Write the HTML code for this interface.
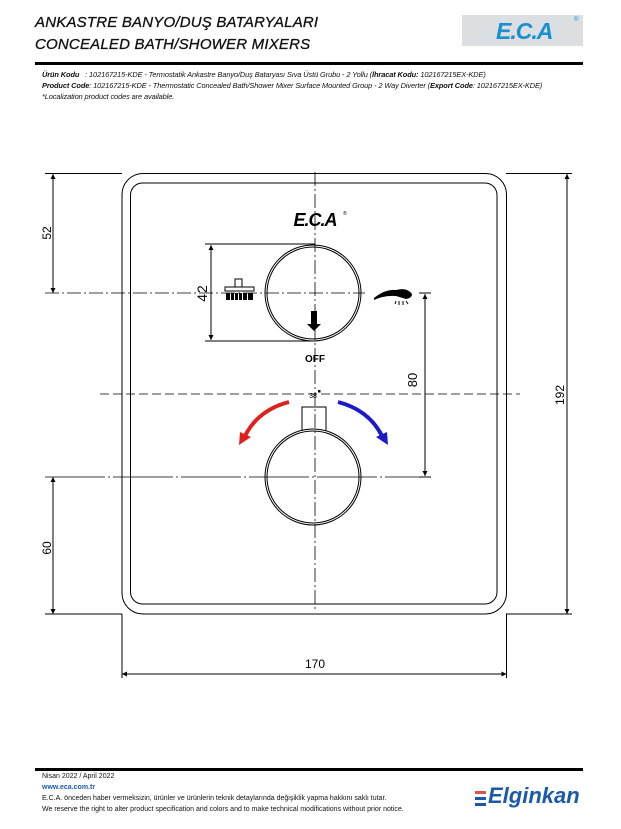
<!DOCTYPE html>
<html><head><meta charset="utf-8"><style>
body{margin:0;width:621px;height:829px;background:#fff;position:relative;overflow:hidden;font-family:"Liberation Sans",sans-serif}
.t{position:absolute;left:35px;font-family:"Liberation Sans",sans-serif;font-style:italic;font-size:15px;color:#111;letter-spacing:0.2px;-webkit-text-stroke:0.3px #111}
.s{position:absolute;left:35px;font-size:7.4px;font-style:italic;color:#111;white-space:nowrap;letter-spacing:-0.1px}
.f{position:absolute;left:42px;font-size:7px;color:#111;white-space:nowrap}
</style></head><body>
<div class="t" style="top:14px">ANKASTRE BANYO/DUŞ BATARYALARI</div>
<div class="t" style="top:36px">CONCEALED BATH/SHOWER MIXERS</div>
<div style="position:absolute;left:462px;top:15px;width:121px;height:31px;background:#dcdfe2"></div>
<div style="position:absolute;left:496px;top:18px;font:italic bold 23px 'Liberation Sans',sans-serif;color:#1a8fcf;letter-spacing:-1px">E.C.A</div>
<div style="position:absolute;left:574px;top:17px;font-size:6px;color:#1a8fcf">®</div>
<div style="position:absolute;left:35px;top:62px;width:548px;height:3px;background:#000"></div>
<div class="s" style="left:42px;top:70px"><b>Ürün Kodu</b> &nbsp;&nbsp;: 102167215-KDE - Termostatik Ankastre Banyo/Duş Bataryası Sıva Üstü Grubu - 2 Yollu (<b>İhracat Kodu:</b> 102167215EX-KDE)</div>
<div class="s" style="left:42px;top:81px"><b>Product Code</b>: 102167215-KDE - Thermostatic Concealed Bath/Shower Mixer Surface Mounted Group - 2 Way Diverter (<b>Export Code</b>: 102167215EX-KDE)</div>
<div class="s" style="left:42px;top:92px">*Localization product codes are available.</div>

<svg width="621" height="829" style="position:absolute;left:0;top:0" xmlns="http://www.w3.org/2000/svg">
<defs>
<marker id="a" viewBox="0 0 10 10" refX="10" refY="5" markerWidth="10" markerHeight="5" orient="auto-start-reverse" markerUnits="userSpaceOnUse"><path d="M0,0L10,5L0,10z" fill="#000"/></marker>
</defs>
<g fill="none" stroke="#000" stroke-width="1">
<rect x="122" y="173.5" width="384.5" height="440.5" rx="21"/>
<rect x="130.5" y="183" width="366.5" height="421" rx="12"/>
<line x1="315" y1="172" x2="315" y2="612" stroke-dasharray="14,3,2,3" stroke-width="0.8"/>
<line x1="45" y1="293" x2="365" y2="293" stroke-dasharray="14,3,2,3" stroke-width="0.8"/>
<line x1="100" y1="394" x2="520" y2="394" stroke-dasharray="9,4" stroke-width="0.8"/>
<line x1="45" y1="477" x2="430" y2="477" stroke-dasharray="60,3,2,3" stroke-width="0.8"/>
<circle cx="313" cy="293" r="48"/><circle cx="313" cy="293" r="46"/>
<circle cx="313" cy="477" r="48"/><circle cx="313" cy="477" r="46"/>
<path d="M302,431V407h24V431"/>
<line x1="45" y1="173.5" x2="122" y2="173.5"/>
<line x1="53" y1="174" x2="53" y2="293" marker-start="url(#a)" marker-end="url(#a)"/>
<line x1="205" y1="244" x2="315" y2="244"/><line x1="205" y1="341" x2="315" y2="341"/>
<line x1="211" y1="245" x2="211" y2="340" marker-start="url(#a)" marker-end="url(#a)"/>
<line x1="419" y1="293" x2="431" y2="293"/><line x1="419" y1="477" x2="431" y2="477"/>
<line x1="425" y1="294" x2="425" y2="476" marker-start="url(#a)" marker-end="url(#a)"/>
<line x1="506" y1="173.5" x2="572" y2="173.5"/><line x1="506" y1="614" x2="572" y2="614"/>
<line x1="567" y1="174" x2="567" y2="614" marker-start="url(#a)" marker-end="url(#a)"/>
<line x1="45" y1="614" x2="122" y2="614"/>
<line x1="53" y1="477" x2="53" y2="614" marker-start="url(#a)" marker-end="url(#a)"/>
<line x1="122" y1="614" x2="122" y2="678"/><line x1="506.5" y1="614" x2="506.5" y2="678"/>
<line x1="122" y1="674" x2="506.5" y2="674" marker-start="url(#a)" marker-end="url(#a)"/>
</g>
<path d="M289,402 Q258,410 245,436" fill="none" stroke="#e0201c" stroke-width="4"/>
<path d="M239,445 L240,432 L251,437z" fill="#e0201c"/>
<path d="M338,402 Q369,410 382,436" fill="none" stroke="#1a1ac8" stroke-width="4"/>
<path d="M388,445 L387,432 L376,437z" fill="#1a1ac8"/>
<rect x="311" y="311" width="6" height="13" fill="#000"/><path d="M307,324h14l-7,7z" fill="#000"/>
<g fill="none" stroke="#000" stroke-width="1"><rect x="235" y="279" width="7" height="8"/><rect x="225" y="287" width="29" height="4"/></g>
<g fill="#000"><rect x="226" y="293" width="4" height="7"/><rect x="231" y="293" width="3" height="7"/><rect x="235" y="293" width="3" height="7"/><rect x="239" y="293" width="3" height="7"/><rect x="243" y="293" width="4" height="7"/><rect x="248" y="293" width="5" height="7"/></g>
<path d="M374,298 Q385,289 396,290 Q407,287 412,294 Q412,298 406,299 L396,296 Q385,295 374,300z" fill="#000"/>
<g stroke="#000" stroke-width="1"><line x1="396" y1="301" x2="395" y2="304"/><line x1="399" y1="301" x2="399" y2="305"/><line x1="403" y1="301" x2="403" y2="305"/><line x1="406" y1="301" x2="408" y2="304"/></g>
<g font-family="Liberation Sans,sans-serif" fill="#000">
<text x="315" y="226" text-anchor="middle" font-size="18" font-weight="bold" font-style="italic" letter-spacing="-1">E.C.A</text>
<text x="343" y="215" font-size="5">®</text>
<text x="315" y="362" text-anchor="middle" font-size="10" font-weight="bold">OFF</text>
<text x="313" y="398" text-anchor="middle" font-size="7">38</text>
<rect x="318" y="390" width="2.5" height="2.5"/>
<text transform="translate(51,233) rotate(-90)" text-anchor="middle" font-size="12">52</text>
<text transform="translate(207,293) rotate(-90)" text-anchor="middle" font-size="14" letter-spacing="1">42</text>
<text transform="translate(417,380) rotate(-90)" text-anchor="middle" font-size="13">80</text>
<text transform="translate(564,395) rotate(-90)" text-anchor="middle" font-size="12">192</text>
<text transform="translate(51,548) rotate(-90)" text-anchor="middle" font-size="12">60</text>
<text x="315" y="668" text-anchor="middle" font-size="12">170</text>
</g>
</svg>

<div style="position:absolute;left:35px;top:768px;width:548px;height:3px;background:#000"></div>
<div class="f" style="top:773px">Nisan 2022 / April 2022</div>
<div class="f" style="top:784px;color:#1a5aa8;font-weight:bold">www.eca.com.tr</div>
<div class="f" style="top:795px">E.C.A. önceden haber vermeksizin, ürünler ve ürünlerin teknik detaylarında değişiklik yapma hakkını saklı tutar.</div>
<div class="f" style="top:806px">We reserve the right to alter product specification and colors and to make technical modifications without prior notice.</div>
<div style="position:absolute;left:475px;top:791px;width:11px;height:3px;background:#e05050"></div>
<div style="position:absolute;left:475px;top:797px;width:11px;height:3px;background:#1a5aa8"></div>
<div style="position:absolute;left:475px;top:803px;width:11px;height:3px;background:#1a5aa8"></div>
<div style="position:absolute;left:488px;top:783px;font:italic bold 22px 'Liberation Sans',sans-serif;color:#1a5aa8">Elginkan</div>
</body></html>
